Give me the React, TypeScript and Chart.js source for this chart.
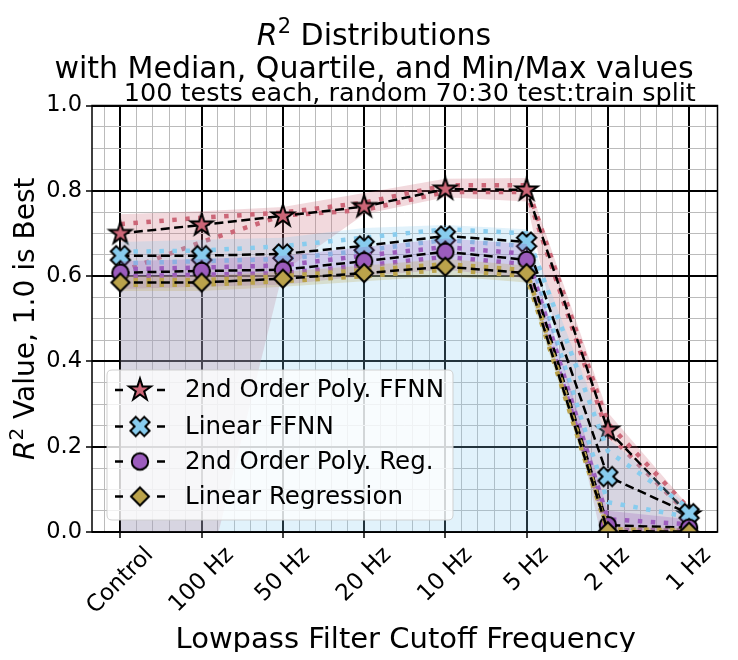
import React, { useEffect, useRef } from 'react';
import { Chart, registerables } from 'chart.js';

Chart.register(...registerables);

const FONT = "'DejaVu Sans', sans-serif";

const categories = ['Control', '100 Hz', '50 Hz', '20 Hz', '10 Hz', '5 Hz', '2 Hz', '1 Hz'];
const yTickLabels = ['0.0', '0.2', '0.4', '0.6', '0.8', '1.0'];
const seriesNames = ['2nd Order Poly. FFNN', 'Linear FFNN', '2nd Order Poly. Reg.', 'Linear Regression'];

// 2nd Order Poly. FFNN
const polyFfnnMedian = [0.70, 0.72, 0.741, 0.763, 0.804, 0.802, 0.239, 0.04];
const polyFfnnQ1 = [0.61, 0.68, 0.742, 0.755, 0.797, 0.797, 0.23, 0.04];
const polyFfnnQ3 = [0.722, 0.737, 0.749, 0.772, 0.813, 0.813, 0.255, 0.055];
const polyFfnnMin = [-0.3, -0.16, 0.61, 0.745, 0.785, 0.775, -0.08, 0.0];
const polyFfnnMax = [0.745, 0.752, 0.762, 0.795, 0.828, 0.83, 0.28, 0.06];

// Linear FFNN
const linFfnnMedian = [0.648, 0.648, 0.652, 0.671, 0.694, 0.68, 0.13, 0.043];
const linFfnnQ1 = [0.63, 0.635, 0.64, 0.66, 0.685, 0.67, 0.07, 0.035];
const linFfnnQ3 = [0.657, 0.66, 0.67, 0.69, 0.71, 0.70, 0.19, 0.055];
const linFfnnMin = [-0.3, -0.3, -0.3, -0.3, -0.3, -0.3, 0.0, 0.0];
const linFfnnMax = [0.68, 0.685, 0.69, 0.713, 0.72, 0.71, 0.22, 0.06];

// 2nd Order Poly. Reg.
const polyRegMedian = [0.608, 0.612, 0.615, 0.635, 0.657, 0.638, 0.016, 0.01];
const polyRegQ1 = [0.60, 0.603, 0.607, 0.625, 0.645, 0.628, 0.005, 0.003];
const polyRegQ3 = [0.616, 0.62, 0.625, 0.648, 0.668, 0.652, 0.03, 0.018];
const polyRegMin = [0.57, 0.575, 0.58, 0.60, 0.615, 0.595, 0.0, 0.0];
const polyRegMax = [0.635, 0.64, 0.648, 0.668, 0.688, 0.675, 0.05, 0.03];

// Linear Regression
const linRegMedian = [0.585, 0.585, 0.594, 0.607, 0.622, 0.607, 0.002, 0.001];
const linRegQ1 = [0.58, 0.58, 0.588, 0.60, 0.615, 0.60, 0.0, 0.0];
const linRegQ3 = [0.59, 0.59, 0.60, 0.614, 0.628, 0.614, 0.006, 0.004];
const linRegMin = [0.565, 0.565, 0.575, 0.588, 0.60, 0.585, -0.01, -0.01];
const linRegMax = [0.60, 0.60, 0.61, 0.625, 0.64, 0.625, 0.012, 0.01];

const COLORS = ['#cc6677', '#88ccee', '#9c5cbd', '#bba34b'];
const FILLS = ['rgba(204,102,119,0.25)', 'rgba(136,204,238,0.25)', 'rgba(156,92,189,0.25)', 'rgba(187,163,75,0.25)'];
const KINDS = ['star', 'x', 'circle', 'diamond'];

const SERIES = [
  { median: polyFfnnMedian, q1: polyFfnnQ1, q3: polyFfnnQ3, min: polyFfnnMin, max: polyFfnnMax },
  { median: linFfnnMedian, q1: linFfnnQ1, q3: linFfnnQ3, min: linFfnnMin, max: linFfnnMax },
  { median: polyRegMedian, q1: polyRegQ1, q3: polyRegQ3, min: polyRegMin, max: polyRegMax },
  { median: linRegMedian, q1: linRegQ1, q3: linRegQ3, min: linRegMin, max: linRegMax },
];

function makeMarker(kind: string, color: string): HTMLCanvasElement {
  const size = 30;
  const c = document.createElement('canvas');
  c.width = size;
  c.height = size;
  const g = c.getContext('2d')!;
  g.translate(size / 2, size / 2);
  g.beginPath();
  if (kind === 'star') {
    const R = 11.5;
    const r = R * 0.382;
    for (let i = 0; i < 10; i++) {
      const rad = i % 2 === 0 ? R : r;
      const ang = -Math.PI / 2 + (i * Math.PI) / 5;
      const px = rad * Math.cos(ang);
      const py = rad * Math.sin(ang);
      if (i === 0) g.moveTo(px, py);
      else g.lineTo(px, py);
    }
  } else if (kind === 'x') {
    const L = 9.8;
    const w = 3.8;
    const pts = [[-w, -L], [w, -L], [w, -w], [L, -w], [L, w], [w, w], [w, L], [-w, L], [-w, w], [-L, w], [-L, -w], [-w, -w]];
    const k = Math.SQRT1_2;
    pts.forEach(([px, py], i) => {
      const rx = (px - py) * k;
      const ry = (px + py) * k;
      if (i === 0) g.moveTo(rx, ry);
      else g.lineTo(rx, ry);
    });
  } else if (kind === 'circle') {
    g.arc(0, 0, 8.2, 0, Math.PI * 2);
  } else {
    const d = 9;
    g.moveTo(0, -d);
    g.lineTo(d, 0);
    g.lineTo(0, d);
    g.lineTo(-d, 0);
  }
  g.closePath();
  g.fillStyle = color;
  g.fill();
  g.lineWidth = 2;
  g.strokeStyle = '#000';
  g.lineJoin = 'miter';
  g.stroke();
  return c;
}

const xTickValues: number[] = [];
for (let i = -1; i <= 36; i++) xTickValues.push(i / 5);
const yTickValues: number[] = [];
for (let i = 0; i <= 20; i++) yTickValues.push(i / 20);

const isInt = (v: number) => Math.abs(v - Math.round(v)) < 1e-6;
const isMajorY = (v: number) => Math.abs(v * 5 - Math.round(v * 5)) < 1e-6;

type Part = { t: string; font: string; dy?: number };

function drawRich(ctx: CanvasRenderingContext2D, parts: Part[], x: number, y: number) {
  const widths = parts.map((p) => {
    ctx.font = p.font;
    return ctx.measureText(p.t).width;
  });
  const total = widths.reduce((a, b) => a + b, 0);
  let cx = x - total / 2;
  ctx.textAlign = 'left';
  ctx.textBaseline = 'alphabetic';
  parts.forEach((p, i) => {
    ctx.font = p.font;
    ctx.fillText(p.t, cx, y + (p.dy || 0));
    cx += widths[i];
  });
}

export default function App() {
  const ref = useRef<HTMLCanvasElement>(null);

  useEffect(() => {
    const markers = KINDS.map((k, i) => makeMarker(k, COLORS[i]));
    const pts = (arr: number[]) => arr.map((v, i) => ({ x: i, y: v }));
    const datasets: any[] = [];
    SERIES.forEach((s, si) => {
      const minIdx = datasets.length;
      datasets.push({
        label: seriesNames[si] + ' min',
        data: pts(s.min),
        borderColor: 'rgba(0,0,0,0)',
        borderWidth: 0,
        pointRadius: 0,
        backgroundColor: FILLS[si],
        fill: minIdx + 1,
      });
      datasets.push({
        label: seriesNames[si] + ' max',
        data: pts(s.max),
        borderColor: 'rgba(0,0,0,0)',
        borderWidth: 0,
        pointRadius: 0,
        fill: false,
      });
      [s.q1, s.q3].forEach((q, qi) => {
        datasets.push({
          label: seriesNames[si] + (qi === 0 ? ' Q1' : ' Q3'),
          data: pts(q),
          borderColor: COLORS[si],
          borderWidth: 4.5,
          borderDash: [4.5, 8.5],
          borderCapStyle: 'butt',
          pointRadius: 0,
          fill: false,
        });
      });
      datasets.push({
        label: seriesNames[si],
        data: pts(s.median),
        borderColor: '#000',
        borderWidth: 2.5,
        borderDash: [9, 4.5],
        pointStyle: markers[si],
        pointRadius: 10,
        pointHoverRadius: 10,
        fill: false,
      });
    });
    datasets.forEach((d, i) => {
      d.order = datasets.length - i;
      d.tension = 0;
    });

    const decor = {
      id: 'decor',
      afterDatasetsDraw(chart: any) {
        const ctx = chart.ctx as CanvasRenderingContext2D;
        const a = chart.chartArea;
        ctx.save();
        ctx.strokeStyle = '#000';
        ctx.lineWidth = 1.5;
        ctx.strokeRect(a.left, a.top, a.right - a.left, a.bottom - a.top);
        ctx.restore();
      },
      afterDraw(chart: any) {
        const ctx = chart.ctx as CanvasRenderingContext2D;
        const a = chart.chartArea;
        const xs = chart.scales.x;
        const ys = chart.scales.y;
        ctx.save();
        ctx.fillStyle = '#000';

        // y tick labels
        ctx.font = `22.5px ${FONT}`;
        ctx.textAlign = 'right';
        ctx.textBaseline = 'middle';
        yTickLabels.forEach((lab, i) => {
          ctx.fillText(lab, a.left - 10, ys.getPixelForValue(i * 0.2));
        });

        // x tick labels, rotated 45, centered
        ctx.font = `23px ${FONT}`;
        categories.forEach((lab, i) => {
          const w = ctx.measureText(lab).width;
          const h = 23 * 1.164;
          const bh = (w + h) * Math.SQRT1_2;
          const cx = xs.getPixelForValue(i);
          const cy = a.bottom + 10 + bh / 2;
          ctx.save();
          ctx.translate(cx, cy);
          ctx.rotate(-Math.PI / 4);
          ctx.textAlign = 'center';
          ctx.textBaseline = 'middle';
          ctx.fillText(lab, 0, 0);
          ctx.restore();
        });

        // x axis title
        ctx.font = `29px ${FONT}`;
        ctx.textAlign = 'center';
        ctx.textBaseline = 'alphabetic';
        ctx.fillText('Lowpass Filter Cutoff Frequency', (a.left + a.right) / 2 + 1, 640);

        // y axis title
        ctx.save();
        ctx.translate(26, (a.top + a.bottom) / 2);
        ctx.rotate(-Math.PI / 2);
        drawRich(ctx, [
          { t: 'R', font: `italic 28px ${FONT}` },
          { t: '2', font: `20px ${FONT}`, dy: -11 },
          { t: ' Value, 1.0 is Best', font: `28px ${FONT}` },
        ], 0, 0);
        ctx.restore();

        // titles
        drawRich(ctx, [
          { t: 'R', font: `italic 30px ${FONT}` },
          { t: '2', font: `21px ${FONT}`, dy: -12 },
          { t: ' Distributions', font: `30px ${FONT}` },
        ], 366, 37);
        drawRich(ctx, [{ t: 'with Median, Quartile, and Min/Max values', font: `30px ${FONT}` }], 366, 70);
        drawRich(ctx, [{ t: '100 tests each, random 70:30 test:train split', font: `25.5px ${FONT}` }], (a.left + a.right) / 2 + 5, 93);

        // legend
        const lx = 99, ly = 362, lw = 346, lh = 150, r = 5;
        ctx.beginPath();
        ctx.moveTo(lx + r, ly);
        ctx.lineTo(lx + lw - r, ly);
        ctx.quadraticCurveTo(lx + lw, ly, lx + lw, ly + r);
        ctx.lineTo(lx + lw, ly + lh - r);
        ctx.quadraticCurveTo(lx + lw, ly + lh, lx + lw - r, ly + lh);
        ctx.lineTo(lx + r, ly + lh);
        ctx.quadraticCurveTo(lx, ly + lh, lx, ly + lh - r);
        ctx.lineTo(lx, ly + r);
        ctx.quadraticCurveTo(lx, ly, lx + r, ly);
        ctx.closePath();
        ctx.fillStyle = 'rgba(255,255,255,0.8)';
        ctx.fill();
        ctx.strokeStyle = 'rgba(204,204,204,0.9)';
        ctx.lineWidth = 1;
        ctx.stroke();

        const rows = [382, 418.5, 453.5, 488.5];
        seriesNames.forEach((name, i) => {
          const y = rows[i];
          ctx.strokeStyle = '#000';
          ctx.lineWidth = 2.5;
          ctx.beginPath();
          ctx.moveTo(107, y);
          ctx.lineTo(115, y);
          ctx.moveTo(149, y);
          ctx.lineTo(157, y);
          ctx.stroke();
          const m = markers[i];
          ctx.drawImage(m, 132 - m.width / 2, y - m.height / 2);
          ctx.fillStyle = '#000';
          ctx.font = `24.5px ${FONT}`;
          ctx.textAlign = 'left';
          ctx.textBaseline = 'middle';
          ctx.fillText(name, 177, y + 1);
        });
        ctx.restore();
      },
    };

    const chart = new Chart(ref.current!, {
      type: 'line',
      data: { datasets },
      options: {
        animation: false,
        responsive: true,
        maintainAspectRatio: false,
        devicePixelRatio: 1,
        events: [],
        layout: { padding: { left: 78, right: 3, top: 97.5, bottom: 114 } },
        plugins: {
          legend: { display: false },
          tooltip: { enabled: false },
          title: { display: false },
        },
        scales: {
          x: {
            type: 'linear',
            min: -0.35,
            max: 7.35,
            afterBuildTicks: (axis: any) => {
              axis.ticks = xTickValues.map((v) => ({ value: v }));
            },
            ticks: { display: false },
            border: { display: false },
            grid: {
              drawTicks: true,
              tickLength: 6,
              color: (c: any) => (isInt(c.tick.value) ? '#000' : '#bbbbbb'),
              lineWidth: (c: any) => (isInt(c.tick.value) ? 2 : 1),
              tickColor: (c: any) => (isInt(c.tick.value) ? '#000' : 'rgba(0,0,0,0)'),
              tickWidth: 1.5,
            },
          },
          y: {
            type: 'linear',
            min: 0,
            max: 1,
            afterBuildTicks: (axis: any) => {
              axis.ticks = yTickValues.map((v) => ({ value: v }));
            },
            ticks: { display: false },
            border: { display: false },
            grid: {
              drawTicks: true,
              tickLength: 6,
              color: (c: any) => (isMajorY(c.tick.value) ? '#000' : '#bbbbbb'),
              lineWidth: (c: any) => (isMajorY(c.tick.value) ? 2 : 1),
              tickColor: (c: any) => (isMajorY(c.tick.value) ? '#000' : 'rgba(0,0,0,0)'),
              tickWidth: 1.5,
            },
          },
        },
      } as any,
      plugins: [decor],
    });
    return () => chart.destroy();
  }, []);

  return (
    <div style={{ position: 'relative', width: 722, height: 644 }}>
      <canvas ref={ref} style={{ display: 'block' }} />
    </div>
  );
}
